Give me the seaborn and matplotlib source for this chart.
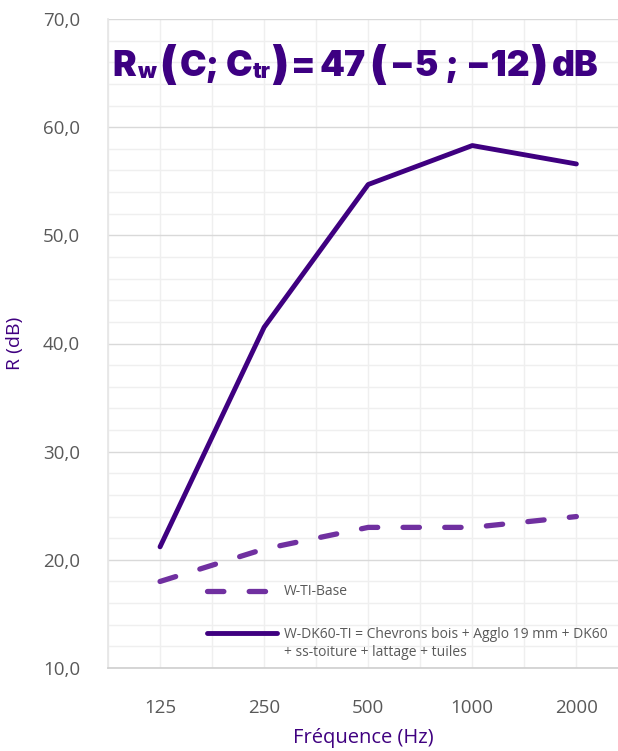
import matplotlib
matplotlib.use("Agg")
import matplotlib.pyplot as plt
import seaborn as sns
import pandas as pd
import numpy as np
from matplotlib.ticker import MultipleLocator, FuncFormatter
from matplotlib.legend_handler import HandlerLine2D

freqs = ["125", "250", "500", "1000", "2000"]
base_vals = [18.0, 21.0, 23.0, 23.0, 24.0]
dk60_vals = [21.2, 41.5, 54.7, 58.3, 56.6]
label_base = "W-TI-Base"
label_dk60 = "W-DK60-TI = Chevrons bois + Agglo 19 mm + DK60\n+ ss-toiture + lattage + tuiles"

sns.set_theme(style="white")
plt.rcParams['font.family'] = ['Open Sans', 'DejaVu Sans']

df_base = pd.DataFrame({"f": freqs, "R": base_vals})
df_dk = pd.DataFrame({"f": freqs, "R": dk60_vals})

W, H = 618, 751
fig = plt.figure(figsize=(W/100, H/100), dpi=100)
ax = fig.add_axes([108/W, 1-668/H, 1-108/W, (668-19)/H])

c_dark = "#3F0080"
c_light = "#7030A0"
sns.lineplot(data=df_base, x="f", y="R", ax=ax, sort=False, color=c_light, lw=3.8,
             label=label_base, solid_capstyle="round")
sns.lineplot(data=df_dk, x="f", y="R", ax=ax, sort=False, color=c_dark, lw=3.5,
             label=label_dk60, solid_capstyle="round")
ax.lines[0].set_linestyle((0, (3.1, 4.8)))
ax.lines[0].set_dash_capstyle("round")

ax.set_ylim(10, 70)
ax.set_xlim(-0.5, 4.4)
ax.yaxis.set_major_locator(MultipleLocator(10))
ax.yaxis.set_minor_locator(MultipleLocator(2))
ax.xaxis.set_minor_locator(MultipleLocator(0.5))
ax.yaxis.set_major_formatter(FuncFormatter(lambda v, p: f"{v:.1f}".replace(".", ",")))
ax.grid(which="major", axis="y", color="#d9d9d9", lw=1.0)
ax.grid(which="minor", axis="y", color="#efefef", lw=1.0)
ax.grid(which="major", axis="x", color="#efefef", lw=1.0)
ax.grid(which="minor", axis="x", color="#efefef", lw=1.0)
ax.set_axisbelow(True)
for s in ["top", "right"]:
    ax.spines[s].set_visible(False)
ax.spines["left"].set_color("#e6e6e6")
ax.spines["bottom"].set_color("#d0d0d0")
ax.tick_params(axis="both", which="both", length=0, labelsize=13.5, colors="#595959")
ax.tick_params(axis="x", pad=22)
ax.tick_params(axis="y", pad=20)

ax.set_xlabel("Fréquence (Hz)", color="#3F0080", fontsize=14.5, labelpad=8)
ax.set_ylabel("R (dB)", color="#3F0080", fontsize=14, labelpad=14)


class ShiftedLineHandler(HandlerLine2D):
    def __init__(self, shift=0.0, **kw):
        super().__init__(**kw)
        self.shift = shift

    def create_artists(self, legend, orig_handle, xdescent, ydescent, width,
                       height, fontsize, trans):
        arts = super().create_artists(legend, orig_handle, xdescent, ydescent,
                                      width, height, fontsize, trans)
        for a in arts:
            a.set_ydata(np.asarray(a.get_ydata()) + self.shift)
        return arts


handles, labels = ax.get_legend_handles_labels()
leg = ax.legend(handles, labels, loc="upper left", bbox_to_anchor=(0.17, 0.148),
                frameon=False, fontsize=10, handlelength=5.0, labelspacing=1.95,
                handletextpad=0.5,
                handler_map={handles[1]: ShiftedLineHandler(shift=8.0)})
for t in leg.get_texts():
    t.set_color("#595959")
    t.set_linespacing(1.3)

# Title composed of pieces (large parentheses, subscripts)
tcol = "#3D0082"
tfam = ["Inter", "Open Sans", "DejaVu Sans"]
renderer = fig.canvas.get_renderer()
base_y = 76  # baseline, px from top
pieces = [
    ("R", 25.6, 0, 1), ("w", 15.5, 2, 4), ("(", 32, 3, 3), ("C;", 25.6, 0, 6),
    ("C", 25.6, 0, 0), ("tr", 15.5, 2, 1), (")", 32, 3, 2), ("=", 25.6, 0, 4),
    ("47", 25.6, 0, 4), ("(", 32, 3, 3), ("−5 ; −12", 25.6, 0, 1), (")", 32, 3, 4),
    ("dB", 25.6, 0, 0),
]
x = 112
for txt, size, dy, gap_after in pieces:
    t = fig.text(x/W, 1-(base_y+dy)/H, txt, fontsize=size, fontweight=900,
                 family=tfam, color=tcol, ha="left", va="baseline")
    bb = t.get_window_extent(renderer)
    x += bb.width + gap_after

fig.savefig("out.png", dpi=100)
